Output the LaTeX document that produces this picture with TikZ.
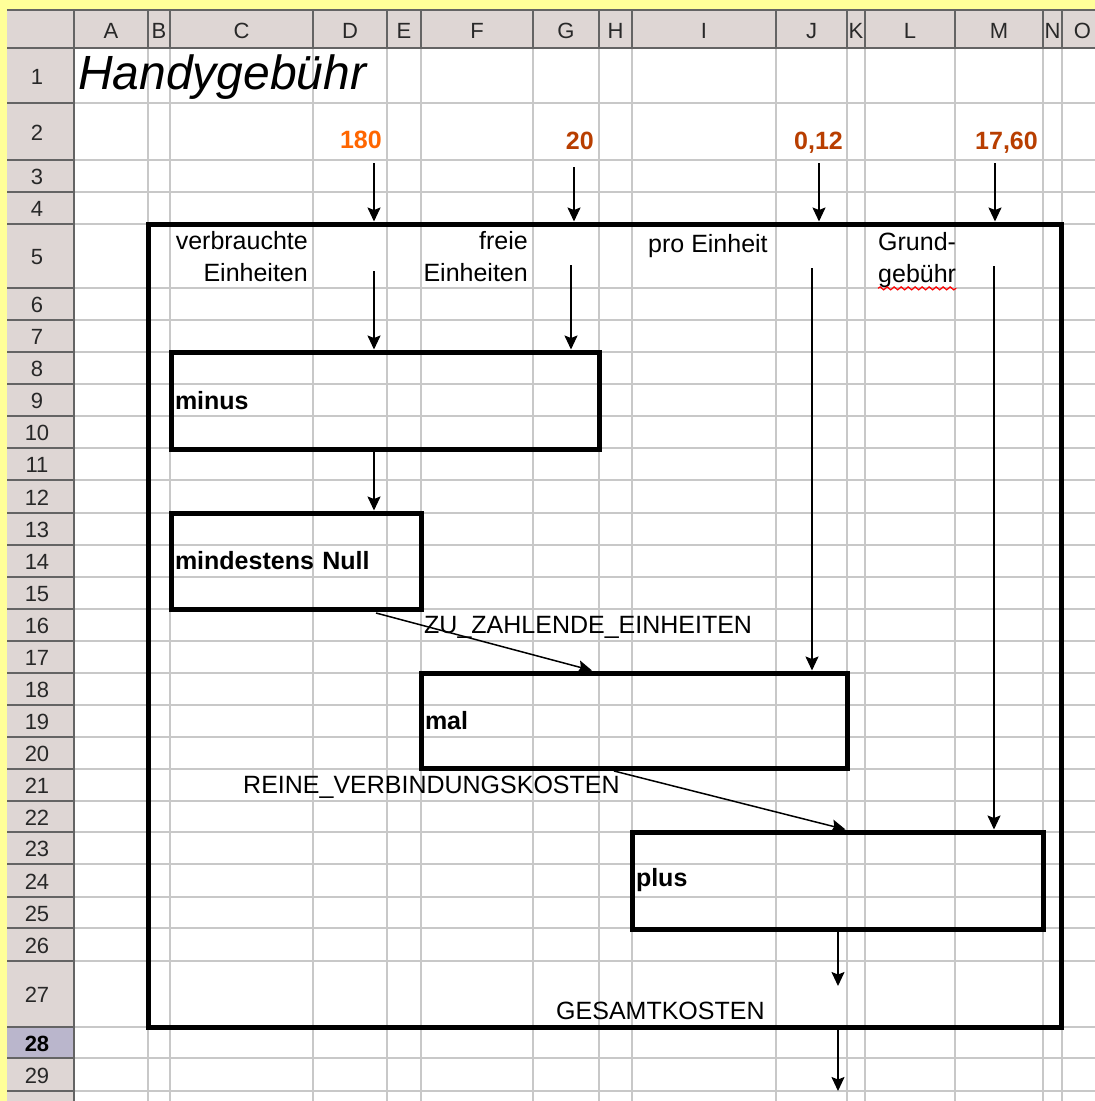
\documentclass[tikz,border=0pt]{standalone}
\usepackage{fontspec}
\setmainfont{Liberation Sans}
\usetikzlibrary{arrows.meta,decorations.pathmorphing}
\definecolor{sheetyellow}{RGB}{255,255,153}
\definecolor{hdrfill}{RGB}{222,214,212}
\definecolor{hdrsel}{RGB}{186,182,204}
\definecolor{hdrline}{RGB}{100,100,100}
\definecolor{hdrtext}{RGB}{40,40,40}
\definecolor{gridgray}{RGB}{200,200,200}
\definecolor{valorange}{RGB}{255,102,0}
\definecolor{valbrown}{RGB}{184,62,0}

\begin{document}
\begin{tikzpicture}[x=1pt, y=-1pt,
	opbox/.style={draw, line width=5pt, inner sep=4pt, align=left, font=\fontsize{25}{30}\selectfont\bfseries},
	lbl/.style={inner sep=0pt, font=\fontsize{25}{32}\selectfont},
	val/.style={inner sep=0pt, anchor=base east, font=\fontsize{25}{30}\selectfont\bfseries},
	hdr/.style={inner sep=0pt, text=hdrtext, font=\fontsize{22}{24}\selectfont},
	arr/.style={-{Stealth[length=14pt,width=13pt,inset=2.5pt]}, line width=1.8pt}]
	\useasboundingbox (0,0) rectangle (1095,1101);
	\fill[sheetyellow] (0,0) rectangle (1095,1101);
	\fill[white] (74,48) rectangle (1095,1101);
	\foreach \x in {148,170,313,387,421,533,599,632,776,847,865,955,1043,1062}
		\draw[gridgray, line width=1.5pt] (\x,48) -- (\x,1101);
	\foreach \y in {103,160,192,224,288,320,352,384,416,448,480,513,545,577,609,641,673,705,737,769,801,832,864,897,928,961,1027,1058,1091}
		\draw[gridgray, line width=1.5pt] (74,\y) -- (1095,\y);
	\fill[hdrfill] (7,10) rectangle (1095,48);
	\fill[hdrfill] (7,48) rectangle (74,1101);
	\fill[hdrsel] (7,1027) rectangle (74,1058);
	\foreach \x in {74,148,170,313,387,421,533,599,632,776,847,865,955,1043,1062}
		\draw[hdrline, line width=1.5pt] (\x,10) -- (\x,48);
	\foreach \y in {48,103,160,192,224,288,320,352,384,416,448,480,513,545,577,609,641,673,705,737,769,801,832,864,897,928,961,1027,1058,1091}
		\draw[hdrline, line width=1.5pt] (7,\y) -- (74,\y);
	\draw[hdrline, line width=1.5pt] (7,10) -- (1095,10) (7,48) -- (1095,48) (74,48) -- (74,1101);
	\foreach \a/\b/\lt in {74/148/A,148/170/B,170/313/C,313/387/D,387/421/E,421/533/F,533/599/G,599/632/H,632/776/I,776/847/J,847/865/K,865/955/L,955/1043/M,1043/1062/N,1062/1103/O}
		\node[hdr] (col\lt) at ({(\a+\b)/2},31) {\lt};
	\foreach \a/\b/\r in {48/103/1,103/160/2,160/192/3,192/224/4,224/288/5,288/320/6,320/352/7,352/384/8,384/416/9,416/448/10,448/480/11,480/513/12,513/545/13,545/577/14,577/609/15,609/641/16,641/673/17,673/705/18,705/737/19,737/769/20,769/801/21,801/832/22,832/864/23,864/897/24,897/928/25,928/961/26,961/1027/27,1058/1091/29}
		\node[hdr] (row\r) at (37,{(\a+\b)/2+1}) {\r};
	\node[hdr, font=\fontsize{22}{24}\selectfont\bfseries, text=black] (row28) at (37,1043.5) {28};

	\node[anchor=base west, inner sep=0pt, font=\fontsize{48}{52}\selectfont\itshape] (title) at (78,89) {Handygebühr};
	\node[val, text=valorange] (v180) at (382,148) {180};
	\node[val, text=valbrown] (v20) at (594,149) {20};
	\node[val, text=valbrown] (v012) at (843,149) {0,12};
	\node[val, text=valbrown] (v1760) at (1038,149) {17,60};

	\node[draw, line width=5pt, inner sep=0pt, minimum width=913pt, minimum height=803pt] (frame) at (604.5,625.5) {};
	\node[opbox, minimum width=428pt, minimum height=97pt, text width=420pt] (minus) at (385,400.5) {minus};
	\node[opbox, minimum width=250pt, minimum height=96pt, text width=242pt] (mind) at (296,561) {mindestens Null};
	\node[opbox, minimum width=426pt, minimum height=95pt, text width=418pt] (mal) at (634,720.5) {mal};
	\node[opbox, minimum width=411pt, minimum height=97pt, text width=403pt] (plus) at (837.5,880.5) {plus};

	\node[lbl, align=right, anchor=east] (verb) at (308,257) {verbrauchte\\Einheiten};
	\node[lbl, align=right, anchor=east] (frei) at (528,257) {freie\\Einheiten};
	\node[lbl, anchor=base west] (pro) at (648,252) {pro Einheit};
	\node[lbl, align=left, anchor=west] (grund) at (878,260.5) {Grund-\\gebühr};
	\draw[red, line width=1.2pt, decorate, decoration={snake, amplitude=1.5pt, segment length=7pt}] (grund.south west) -- (grund.south east);
	\node[lbl, anchor=base west] (zu) at (424,633) {ZU\_ZAHLENDE\_EINHEITEN};
	\node[lbl, anchor=base west] (reine) at (243,793) {REINE\_VERBINDUNGSKOSTEN};
	\node[lbl, anchor=base west] (gesamt) at (556,1019) {GESAMTKOSTEN};

	\coordinate (s180) at (374,163);
	\coordinate (s20) at (574,167);
	\coordinate (s012) at (819,163);
	\coordinate (s1760) at (995,163);
	\coordinate (sverb) at (374,271);
	\coordinate (sfrei) at (571,265);
	\coordinate (spro) at (812,268);
	\coordinate (sgrund) at (994,266);
	\coordinate (szu) at (376,613);
	\coordinate (sreine) at (614,771);
	\coordinate (sges) at (838,986);
	\coordinate (sout) at (838,1091);
	\draw[arr] (s180) -- (s180 |- frame.north);
	\draw[arr] (s20) -- (s20 |- frame.north);
	\draw[arr] (s012) -- (s012 |- frame.north);
	\draw[arr] (s1760) -- (s1760 |- frame.north);
	\draw[arr] (sverb) -- (sverb |- minus.north);
	\draw[arr] (sfrei) -- (sfrei |- minus.north);
	\draw[arr] (minus.south -| sverb) -- (sverb |- mind.north);
	\draw[arr] (spro) -- (spro |- mal.north);
	\draw[arr] (sgrund) -- (sgrund |- plus.north);
	\draw[arr, line width=1.5pt] (szu) -- ([xshift=-42pt]mal.north);
	\draw[arr, line width=1.5pt] (sreine) -- ([xshift=8pt]plus.north);
	\draw[arr] (plus.south -| sges) -- (sges);
	\draw[arr] (frame.south -| sout) -- (sout);
\end{tikzpicture}
\end{document}
